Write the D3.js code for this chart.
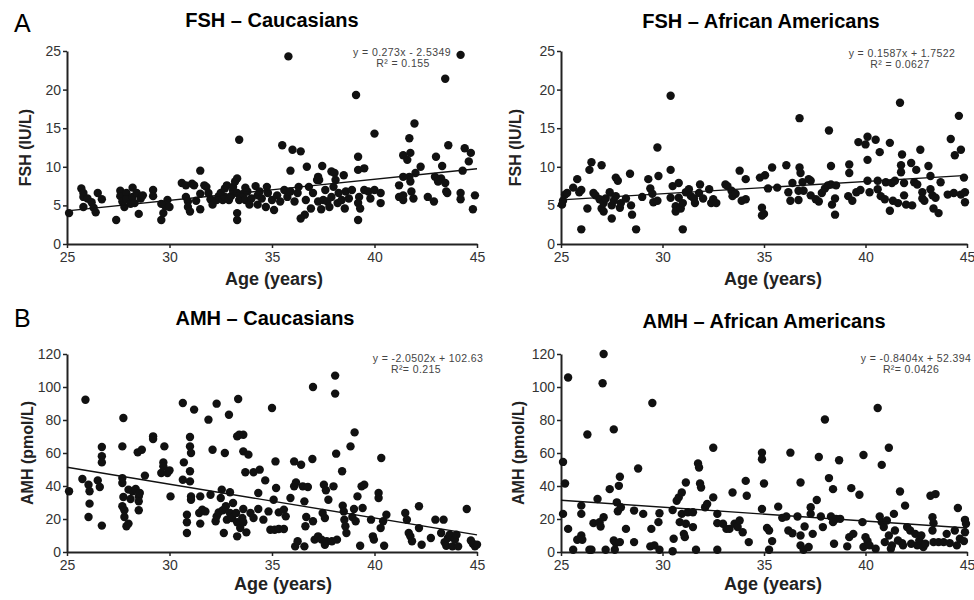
<!DOCTYPE html>
<html>
<head>
<meta charset="utf-8">
<script src="https://cdn.jsdelivr.net/npm/d3@7"></script>
<style>
  body { margin: 0; background: #fff; }
  svg { font-family: Arial, "Liberation Sans", sans-serif; }
</style>
</head>
<body>
<svg id="chart" width="974" height="600"></svg>
<script>
// ---- data: [age, value] ----
const fshCau = [
  [25.1,4.0],[25.7,7.2],[25.8,6.6],[25.8,6.1],[25.8,4.8],[26.0,5.9],[26.2,5.4],[26.3,4.7],[26.4,4.1],[26.5,6.6],
  [26.7,5.8],[27.4,3.1],[27.6,6.9],[27.6,6.2],[27.7,5.5],[27.8,4.8],[27.9,6.6],[27.9,5.8],[28.1,5.2],[28.2,7.3],
  [28.2,6.1],[28.3,5.3],[28.4,6.6],[28.5,3.9],[28.6,5.9],[28.7,6.3],[29.2,7.0],[29.2,6.2],[29.6,3.1],[29.7,4.0],
  [29.8,4.9],[29.9,5.7],[30.0,4.8],[29.6,5.2],[30.6,7.9],[30.8,7.6],[30.8,6.1],[30.9,5.5],[30.9,4.8],[31.0,4.2],
  [31.1,7.8],[31.2,7.6],[31.3,5.6],[31.5,9.5],[31.5,6.5],[31.5,4.5],[31.7,7.6],[31.8,7.4],[31.9,6.6],[32.0,5.8],
  [32.1,5.1],[32.3,5.7],[32.4,6.2],[32.5,6.6],[32.6,5.7],[32.7,6.1],[32.7,7.2],[32.8,7.6],[32.9,5.7],[33.0,6.2],
  [33.1,6.9],[33.1,7.4],[33.2,8.1],[33.3,8.5],[33.3,6.6],[33.4,13.5],[33.3,3.1],[33.3,4.0],[33.4,5.7],[33.6,6.5],
  [33.7,7.3],[33.7,5.7],[33.8,6.8],[33.9,5.1],[34.0,5.9],[34.2,7.5],[34.3,5.1],[34.3,6.3],
  [35.8,24.3],[44.2,24.5],[43.45,21.4],[39.1,19.3],[41.95,15.6],[40.0,14.3],[41.7,13.7],[35.5,12.8],[36.0,12.2],[36.4,12.0],
  [39.2,11.3],[43.6,12.8],[44.4,12.4],[41.4,11.5],[41.75,11.8],[43.0,11.3],[41.6,10.9],[44.6,10.7],[35.9,9.5],[36.7,10.0],
  [37.45,10.1],[39.2,9.6],[39.5,9.8],[42.25,10.0],[42.0,9.2],[43.3,10.1],[42.95,8.7],[43.25,8.5],[44.3,9.5],[37.25,8.7],
  [37.3,8.3],[37.9,9.4],[38.05,9.2],[38.5,8.9],[41.75,8.1],[41.7,8.7],
  [34.4,6.8],[34.5,5.9],[34.7,4.8],[34.75,7.4],[34.8,6.6],[35.0,5.7],[35.1,4.4],[35.25,6.3],[35.4,5.5],[35.6,7.0],
  [35.75,6.1],[35.9,6.8],[36.1,5.5],[36.25,6.6],[36.3,7.4],[36.4,3.3],[36.6,3.8],[36.65,5.7],[36.8,7.4],[36.9,4.6],
  [37.0,6.6],[37.2,8.3],[37.25,5.5],[37.4,4.5],[37.5,5.7],[37.6,7.0],[37.7,5.5],[37.8,4.8],[37.9,6.1],[38.0,7.4],
  [38.1,8.3],[38.2,5.3],[38.25,6.6],[38.4,5.7],[38.55,4.6],[38.6,6.8],[38.75,5.9],[38.9,7.0],[39.2,5.3],[39.2,3.1],
  [39.25,6.1],[39.3,4.6],[39.5,7.0],[39.7,6.8],[39.8,5.9],[40.0,7.0],[40.3,5.3],[40.3,6.6],[41.2,7.6],[41.2,6.1],
  [41.4,5.7],[41.4,6.3],[41.4,8.7],[41.8,6.8],[41.9,5.9],[42.6,6.1],[42.9,5.5],[43.1,8.1],[43.45,7.9],[43.5,6.8],
  [43.55,6.6],[44.2,6.6],[44.2,5.8],[44.8,4.5],[44.7,11.8],[44.9,6.3]
];

const fshAA = [
  [25.1,5.6],[25.05,5.1],[25.2,6.4],[25.3,6.6],[25.6,7.3],[25.8,8.4],[25.9,6.7],[26.0,7.0],[26.0,1.9],[26.3,4.6],
  [26.4,9.6],[26.5,10.6],[26.6,6.6],[26.7,6.3],[26.9,5.8],[27.0,10.2],[27.0,4.6],[27.1,4.2],[27.1,5.3],[27.2,5.9],
  [27.4,6.7],[27.5,5.0],[27.5,3.3],[27.6,5.6],[27.7,8.6],[27.7,6.2],[27.8,8.2],[27.9,4.7],[27.95,5.3],[28.2,5.9],
  [28.4,9.1],[28.45,5.0],[28.5,3.8],[28.7,1.9],[29.0,6.1],[29.3,8.4],[29.4,7.2],[29.5,6.5],[29.55,5.4],[29.75,12.5],
  [29.75,5.6],[29.8,8.8],[30.4,19.2],[30.4,9.6],[30.4,6.0],[30.5,7.5],[30.65,4.9],[30.65,4.2],[30.8,6.0],[30.8,7.9],
  [30.9,4.6],[31.0,1.9],[31.0,5.3],[31.15,6.7],[31.3,7.1],[31.4,6.2],[31.55,5.9],[31.6,5.3],[31.8,6.6],[31.85,7.7],
  [32.0,5.9],[32.3,7.1],[32.4,5.3],[32.5,5.8],[32.65,5.3],
  [33.1,7.7],[33.2,7.5],[33.4,6.9],[33.45,6.2],[33.6,6.5],[33.8,9.5],[33.9,5.6],[34.1,8.4],[34.1,5.8],[34.8,8.6],
  [34.9,4.7],[35.0,3.9],[34.9,3.7],[35.05,8.9],[35.2,7.2],[35.4,9.9],[35.65,7.3],[36.1,10.2],[36.2,6.7],[36.3,5.6],
  [36.4,7.9],[36.7,6.9],[36.7,5.7],[36.75,16.3],[36.75,9.9],[36.8,9.2],[36.9,8.0],[36.95,6.9],[37.2,8.4],[37.3,8.2],
  [37.3,6.3],[37.55,5.8],[37.7,5.5],[37.85,6.6],[38.0,7.2],[38.15,7.6],[38.2,14.7],[38.3,10.1],[38.3,7.7],[38.35,5.1],
  [38.5,5.9],[38.5,3.8],[38.55,7.6],[39.2,10.3],[39.2,9.2],[39.15,6.2],[39.35,5.6],[39.55,6.7],[39.65,13.2],[39.75,7.0],
  [40.0,12.9],[40.1,10.9],[40.1,13.9],[40.1,8.2],[40.2,6.7],[40.5,13.5],[40.6,8.2],[40.6,7.1],[40.7,11.9],[40.75,6.2],
  [40.95,5.8],[41.0,8.0],[41.2,13.1],[41.2,4.3],[41.3,7.9],[41.35,5.6],[41.45,8.2],[41.6,5.3],[41.7,18.3],[41.75,10.2],
  [41.75,9.3],[41.8,11.6],[41.9,7.9],[41.9,6.3],[42.0,5.1],[42.25,10.5],[42.3,5.0],[42.4,8.0],[42.5,9.6],[42.55,7.7],
  [42.7,12.2],[42.8,6.7],[42.8,5.9],[42.9,5.6],[43.1,10.1],[43.2,8.8],[43.2,7.1],[43.3,6.3],[43.35,4.6],[43.45,6.0],
  [43.6,4.0],[43.7,8.0],[44.05,6.4],[44.2,13.6],[44.35,6.6],[44.4,11.5],[44.6,16.6],[44.7,12.2],[44.7,6.4],[44.85,8.6],
  [44.9,5.4],[44.9,6.7]
];

const amhCau = [
  [25.1,36.8],[25.75,44.2],[25.9,92.3],[26.05,40.8],[26.1,36.8],[26.1,29.3],[26.05,21.2],[26.5,43.4],[26.6,39.4],[26.7,58.0],
  [26.7,54.3],[26.7,63.6],[26.7,16.0],[27.7,41.8],[27.7,64.0],[27.75,81.2],[27.7,44.8],[27.75,33.3],[27.7,27.7],[27.8,25.3],
  [27.8,21.2],[27.9,15.6],[28.0,17.2],[28.0,37.8],[28.1,32.1],[28.2,36.8],[28.35,38.2],[28.45,60.4],[28.5,33.7],[28.5,30.7],
  [28.5,25.3],[28.55,35.8],[28.65,62.0],[28.8,46.3],[29.2,70.1],[29.2,68.5],[29.7,54.3],[29.7,51.9],[29.6,47.9],[29.75,64.0],
  [29.9,47.9],[30.05,33.7],[30.0,49.5],[30.65,90.3],[30.65,43.8],[30.7,54.3],[30.85,22.6],[30.85,18.0],[30.85,11.5],[31.0,69.7],
  [31.0,64.0],[31.05,60.0],[31.0,48.9],[31.0,42.8],[31.05,33.7],[31.05,31.7],[31.2,86.3],[31.45,23.6],[31.5,33.7],[31.5,17.2],
  [31.6,25.7],[31.75,24.6],[31.9,80.2],[32.0,34.7],[32.1,62.0],[32.3,89.9],[32.25,18.6],[32.3,21.6],[32.4,24.0],[32.5,32.7],
  [32.55,37.8],[32.6,25.3],[32.65,11.5],[32.7,60.0],[32.75,27.7],[32.9,83.2],[32.8,19.6],[32.95,23.6],[32.95,36.2],[33.05,20.6],
  [33.1,29.7],[33.25,23.6],[33.3,18.0],[33.35,92.7],[33.3,70.1],[33.4,71.1],[33.45,14.5],[33.3,9.5],[33.55,20.6],[33.6,71.1],
  [33.6,61.0],[33.6,26.1],[33.6,18.0],[33.7,48.3],[33.75,11.9],[33.85,59.0],[33.95,23.6],[34.1,48.3],[34.1,20.6],
  [34.4,49.9],[34.67,43.4],[35.17,54.9],[35.0,87.3],[34.33,35.8],[34.33,26.1],[34.58,19.6],[34.83,24.6],[34.92,13.5],[35.13,13.5],
  [35.33,13.9],[35.58,13.9],[35.67,21.6],[35.2,38.8],[35.08,31.7],[35.33,24.0],[35.58,25.7],[35.9,32.7],[36.08,39.8],[36.17,42.2],
  [36.08,54.9],[36.42,52.9],[36.5,39.8],[36.58,30.7],[36.67,21.2],[36.63,15.6],[36.97,56.4],[37.0,100.0],[36.75,39.4],[37.0,18.6],
  [37.08,7.5],[37.25,9.5],[37.42,7.5],[37.58,4.4],[37.67,6.5],[36.13,3.4],[36.25,6.5],[36.58,3.4],[37.53,40.8],[37.63,37.4],
  [37.47,23.6],[37.58,20.6],[37.75,31.7],[38.0,39.8],[38.08,106.9],[38.08,96.0],[38.13,59.6],[37.92,6.5],[38.17,7.5],[38.42,48.9],
  [38.45,28.1],[38.5,24.6],[38.53,19.6],[38.58,15.6],[38.63,11.5],[38.83,64.0],[38.92,21.2],[39.0,26.1],[39.03,72.5],[39.08,18.6],
  [39.17,33.7],[39.37,39.8],[39.42,26.7],[39.5,40.8],[39.3,3.8],[39.83,19.6],[39.92,9.5],[39.97,7.5],[40.2,35.8],[40.2,32.7],
  [40.33,57.0],[40.3,14.5],[40.42,18.6],[40.47,3.8],[40.58,22.6],[41.5,23.6],[41.58,19.6],[41.67,11.5],[41.75,9.5],[41.83,6.5],
  [42.17,27.7],[42.17,14.5],[42.3,4.4],[42.75,8.5],[42.97,19.6],[43.25,11.5],[43.37,19.6],[43.42,5.9],[43.5,3.8],[43.58,8.5],
  [43.67,10.5],[43.8,3.4],[43.92,7.5],[44.0,10.5],[44.08,3.4],[44.5,26.1],[44.8,5.0],[44.9,3.5],[45.0,4.5],[44.7,7.0]
];

const amhAA = [
  [25.1,54.6],[25.2,41.5],[25.1,23.1],[25.35,105.8],[25.35,14.0],[25.6,1.4],[26.0,10.0],[25.8,7.4],[26.05,7.4],[26.0,28.1],
  [26.0,23.1],[26.3,71.2],[26.4,1.4],[26.5,1.4],[26.6,17.5],[26.8,32.1],[26.9,18.1],[26.95,15.5],[27.05,102.3],[27.1,120.0],
  [27.1,21.1],[27.2,1.4],[27.4,38.1],[27.6,74.3],[27.6,7.0],[27.65,1.4],[27.7,5.4],[27.75,30.1],[27.8,24.7],[27.85,40.1],
  [27.9,45.6],[27.9,6.0],[27.95,27.1],[28.2,14.0],[28.6,6.0],[28.6,25.1],[28.8,50.6],[29.05,23.1],[29.5,90.3],[29.4,3.4],
  [29.45,14.0],[29.6,4.0],[29.8,18.1],[29.85,23.5],[29.85,1.4],[30.5,0.5],[30.5,25.5],[30.55,8.0],[30.7,31.1],[30.8,33.1],
  [30.85,18.1],[30.95,36.1],[30.95,23.1],[31.05,11.0],[31.15,42.1],[31.1,9.0],[31.15,17.1],[31.25,24.1],[31.5,15.1],[31.5,24.1],
  [31.65,1.4],[31.75,53.6],[31.8,51.2],[31.85,41.5],[31.9,39.1],[32.1,27.1],[32.2,29.1],[32.5,63.2],[32.5,33.1],[32.7,23.1],
  [32.7,17.5],[32.7,1.4],
  [32.98,17.1],[33.15,14.0],[33.3,14.0],[33.45,36.1],[33.55,17.1],[33.7,15.1],[33.8,19.1],[33.95,12.0],[34.1,43.1],[34.15,34.1],
  [34.25,6.0],[34.9,60.2],[34.9,56.2],[35.0,41.5],[34.9,26.1],[35.15,14.6],[35.25,13.0],[35.25,1.4],[35.4,6.6],[35.7,27.5],
  [35.9,20.7],[36.1,21.5],[36.3,60.2],[36.2,13.0],[36.4,11.4],[36.65,21.5],[36.8,42.1],[36.8,10.0],[36.8,4.0],[36.95,1.4],
  [37.0,15.5],[37.2,3.0],[37.3,27.1],[37.3,23.1],[37.4,11.0],[37.6,31.5],[37.7,57.6],[37.8,21.5],[37.9,15.1],[38.0,80.3],
  [38.2,44.8],[38.3,21.5],[38.4,38.1],[38.4,18.1],[38.45,5.0],[38.55,20.1],[38.7,55.6],[38.75,20.1],[39.1,3.4],[39.2,9.0],
  [39.3,38.7],[39.4,11.0],[39.7,34.7],[39.85,18.1],[39.9,58.8],[39.9,3.0],[40.0,9.0],[40.1,6.6],[40.2,4.0],[40.5,2.0],
  [40.6,87.3],[40.7,21.5],[40.8,52.8],[40.8,18.1],[40.9,15.1],[40.95,6.0],[41.05,19.1],[41.15,63.2],[41.15,10.0],[41.25,2.0],
  [41.3,4.0],[41.4,23.1],[41.45,13.0],[41.6,7.0],[41.7,36.7],[41.8,5.4],[41.85,4.0],[41.95,28.1],[42.05,15.1],[42.2,13.0],
  [42.25,5.0],[42.45,11.0],[42.55,4.0],[42.65,7.0],[42.75,10.0],[42.85,3.0],[42.95,5.0],[43.2,34.1],[43.45,35.1],[43.3,21.1],
  [43.35,17.5],[43.3,13.0],[43.35,6.0],[43.6,6.0],[43.85,6.0],[44.0,11.0],[44.15,5.4],[44.4,13.0],[44.5,4.0],[44.55,26.7],
  [44.65,8.0],[44.85,6.6],[44.9,19.5],[44.95,17.1],[44.9,12.0]
];

// ---- labels, ticks and fitted lines ----
const titles = ["FSH \u2013 Caucasians", "FSH \u2013 African Americans", "AMH \u2013 Caucasians", "AMH \u2013 African Americans"];
const yLabels = ["FSH (IU/L)", "FSH (IU/L)", "AMH (pmol/L)", "AMH (pmol/L)"];
const ageTicks = [25, 30, 35, 40, 45];
const fshTicks = [0, 5, 10, 15, 20, 25];
const amhTicks = [0, 20, 40, 60, 80, 100, 120];
const fits = [[0.273, -2.5349], [0.1587, 1.7522], [-2.0502, 102.63], [-0.8404, 52.394]];
const equations = ["y = 0.273x - 2.5349", "y = 0.1587x + 1.7522", "y = -2.0502x + 102.63", "y = -0.8404x + 52.394"];
const r2Texts = ["R\u00b2 = 0.155", "R\u00b2 = 0.0627", "R\u00b2= 0.215", "R\u00b2= 0.0426"];

const svg = d3.select("#chart");

// panel frames (pixel layout)
const panels = [
  { data: fshCau, yTicks: fshTicks, left: 67, right: 477, top: 51, bottom: 244,
    titleX: 272, titleY: 27, yLabX: 25, xLabX: 274, xLabY: 285, eqX: 402, eqY: 56, r2X: 403 },
  { data: fshAA, yTicks: fshTicks, left: 561, right: 967, top: 51, bottom: 244,
    titleX: 761, titleY: 28, yLabX: 515, xLabX: 773, xLabY: 285, eqX: 902, eqY: 57, r2X: 900 },
  { data: amhCau, yTicks: amhTicks, left: 67, right: 477, top: 354, bottom: 552,
    titleX: 265, titleY: 325, yLabX: 27, xLabX: 283, xLabY: 590, eqX: 428, eqY: 362, r2X: 416 },
  { data: amhAA, yTicks: amhTicks, left: 561, right: 967, top: 354, bottom: 552,
    titleX: 764, titleY: 328, yLabX: 518, xLabX: 773, xLabY: 590, eqX: 916, eqY: 362, r2X: 911 }
];

panels.forEach((p, i) => {
  const x = d3.scaleLinear().domain([25, 45]).range([p.left, p.right]);
  const y = d3.scaleLinear().domain([0, d3.max(p.yTicks)]).range([p.bottom, p.top]);
  const g = svg.append("g");

  // axes
  const xa = g.append("g")
    .attr("transform", "translate(0," + p.bottom + ")")
    .call(d3.axisBottom(x).tickValues(ageTicks).tickSize(4).tickSizeOuter(0).tickPadding(4));
  const ya = g.append("g")
    .attr("transform", "translate(" + p.left + ",0)")
    .call(d3.axisLeft(y).tickValues(p.yTicks).tickSize(4).tickSizeOuter(0).tickPadding(2));
  [xa, ya].forEach(a => {
    a.select(".domain").attr("stroke", "#222").attr("stroke-width", 2);
    a.selectAll(".tick line").attr("stroke", "#222").attr("stroke-width", 1.5);
    a.selectAll(".tick text").attr("fill", "#333").style("font-size", "14px");
  });

  // points
  g.selectAll("circle")
    .data(p.data)
    .enter().append("circle")
    .attr("cx", d => x(d[0]))
    .attr("cy", d => y(d[1]))
    .attr("r", 4.2)
    .attr("fill", "#111");

  // regression line
  const f = fits[i];
  g.append("path")
    .datum([25, 45])
    .attr("d", d3.line().x(d => x(d)).y(d => y(f[0] * d + f[1])))
    .attr("fill", "none")
    .attr("stroke", "#111")
    .attr("stroke-width", 1.4);

  // texts
  g.append("text")
    .attr("x", p.titleX).attr("y", p.titleY)
    .attr("text-anchor", "middle")
    .style("font-size", "20px").style("font-weight", "bold")
    .text(titles[i]);

  g.append("text")
    .attr("transform", "translate(" + p.yLabX + "," + (p.top + p.bottom) / 2 + ") rotate(-90)")
    .attr("text-anchor", "middle")
    .attr("dy", "0.35em")
    .style("font-size", "16px").style("font-weight", "bold")
    .attr("fill", "#222")
    .text(yLabels[i]);

  g.append("text")
    .attr("x", p.xLabX).attr("y", p.xLabY)
    .attr("text-anchor", "middle")
    .style("font-size", "18px").style("font-weight", "bold")
    .attr("fill", "#222")
    .text("Age (years)");

  g.append("text")
    .attr("x", p.eqX).attr("y", p.eqY)
    .attr("text-anchor", "middle")
    .style("font-size", "10.5px").style("letter-spacing", "0.4px")
    .attr("fill", "#444")
    .text(equations[i]);

  g.append("text")
    .attr("x", p.r2X).attr("y", p.eqY + 11)
    .attr("text-anchor", "middle")
    .style("font-size", "10.5px").style("letter-spacing", "0.4px")
    .attr("fill", "#444")
    .text(r2Texts[i]);
});

// panel letters
svg.append("text").attr("x", 14).attr("y", 32).style("font-size", "25px").text("A");
svg.append("text").attr("x", 14).attr("y", 327).style("font-size", "25px").text("B");
</script>
</body>
</html>
